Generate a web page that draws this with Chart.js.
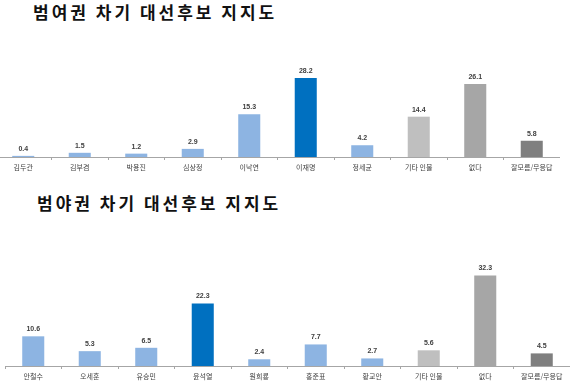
<!DOCTYPE html>
<html>
<head>
<meta charset="utf-8">
<script src="https://cdn.jsdelivr.net/npm/chart.js@4/dist/chart.umd.min.js"></script>
<style>
  html, body { margin: 0; padding: 0; background: #ffffff; width: 580px; height: 387px; overflow: hidden; position: relative; }
  .title { position: absolute; font-family: "Noto Sans CJK KR", sans-serif; font-weight: 700; font-size: 17px; letter-spacing: 3px; color: #111; white-space: nowrap; line-height: 1; }
  .box { position: absolute; }
</style>
</head>
<body>
<div class="title" id="t1" style="left:33px; top:3px;"></div>
<div class="title" id="t2" style="left:37px; top:194px;"></div>
<div class="box" style="left:-5px; top:40px; width:565px; height:137px;"><canvas id="c1"></canvas></div>
<div class="box" style="left:5px; top:240px; width:565px; height:146px;"><canvas id="c2"></canvas></div>
<script>
const title1 = "범여권 차기 대선후보 지지도";
const title2 = "범야권 차기 대선후보 지지도";

const categories1 = ["김두관", "김부겸", "박용진", "심상정", "이낙연", "이재명", "정세균", "기타 인물", "없다", "잘모름/무응답"];
const values1 = [0.4, 1.5, 1.2, 2.9, 15.3, 28.2, 4.2, 14.4, 26.1, 5.8];

const categories2 = ["안철수", "오세훈", "유승민", "윤석열", "원희룡", "홍준표", "황교안", "기타 인물", "없다", "잘모름/무응답"];
const values2 = [10.6, 5.3, 6.5, 22.3, 2.4, 7.7, 2.7, 5.6, 32.3, 4.5];

const LIGHT_BLUE = "#8DB4E2", DARK_BLUE = "#0070C0", GRAY1 = "#BFBFBF", GRAY2 = "#A6A6A6", GRAY3 = "#7F7F7F";
const colors1 = [LIGHT_BLUE, LIGHT_BLUE, LIGHT_BLUE, LIGHT_BLUE, LIGHT_BLUE, DARK_BLUE, LIGHT_BLUE, GRAY1, GRAY2, GRAY3];
const colors2 = [LIGHT_BLUE, LIGHT_BLUE, LIGHT_BLUE, DARK_BLUE, LIGHT_BLUE, LIGHT_BLUE, LIGHT_BLUE, GRAY1, GRAY2, GRAY3];

document.getElementById("t1").textContent = title1;
document.getElementById("t2").textContent = title2;

const valueLabels = {
  id: "valueLabels",
  afterDatasetsDraw(chart) {
    const ctx = chart.ctx;
    const meta = chart.getDatasetMeta(0);
    const data = chart.data.datasets[0].data;
    ctx.save();
    ctx.font = "bold 7px 'Liberation Sans', Arial, sans-serif";
    ctx.fillStyle = "#404040";
    ctx.textAlign = "center";
    ctx.textBaseline = "middle";
    meta.data.forEach((bar, i) => {
      ctx.fillText(data[i].toFixed(1), bar.x, bar.y - 7);
    });
    ctx.restore();
  }
};

function makeChart(id, labels, values, colors, yMax, padTop) {
  return new Chart(document.getElementById(id), {
    type: "bar",
    data: {
      labels: labels,
      datasets: [{
        data: values,
        backgroundColor: colors,
        borderWidth: 0,
        categoryPercentage: 1.0,
        barPercentage: 0.39
      }]
    },
    options: {
      responsive: true,
      maintainAspectRatio: false,
      animation: false,
      layout: { padding: { top: padTop, left: 0, right: 0, bottom: 0 } },
      plugins: { legend: { display: false }, tooltip: { enabled: false }, title: { display: false } },
      scales: {
        x: {
          offset: true,
          grid: { display: true, drawOnChartArea: false, drawTicks: true, tickLength: 3, color: "#A6A6A6", offset: true },
          border: { display: true, color: "#A6A6A6", width: 1 },
          ticks: { color: "#404040", font: { family: "'Noto Sans CJK KR', sans-serif", size: 7 }, padding: 3, maxRotation: 0, autoSkip: false },
          afterFit(scale) { scale.height = 20; }
        },
        y: {
          display: false,
          min: 0,
          max: yMax
        }
      }
    },
    plugins: [valueLabels]
  });
}

makeChart("c1", categories1, values1, colors1, 35, 19);
makeChart("c2", categories2, values2, colors2, 40, 14);
</script>
</body>
</html>
